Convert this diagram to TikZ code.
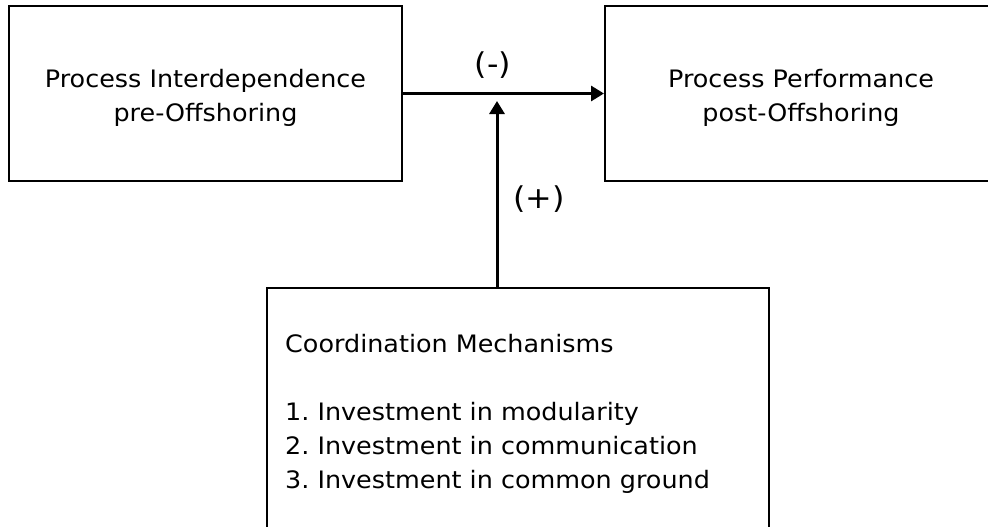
\documentclass[tikz,border=0pt]{standalone}
\usepackage{fontspec}
\setmainfont{DejaVu Sans}[FakeStretch=1.06]
\usetikzlibrary{arrows.meta}
\frenchspacing
\begin{document}
\begin{tikzpicture}[x=1pt,y=-1pt,
  box/.style={draw=black, line width=2pt, rectangle, inner sep=0pt},
  txt/.style={inner sep=0pt, font=\fontsize{24}{28}\selectfont, anchor=base},
  lbl/.style={inner sep=0pt, font=\fontsize{30}{34}\selectfont},
  arr/.style={line width=3pt, -{Triangle[length=13pt,width=15pt]}}]
\useasboundingbox (0,0) rectangle (988,527);
\fill[white] (0,0) rectangle (988,527);
% boxes
\node[box, minimum width=393pt, minimum height=175pt] (pi) at (205.5,93.5) {};
\node[box, minimum width=392pt, minimum height=175pt] (pp) at (801,93.5) {};
\node[box, minimum width=502pt, minimum height=272pt] (cm) at (518,424) {};
% texts
\node[txt] (pi1) at (205.5,88) {Process Interdependence};
\node[txt] (pi2) at (205.5,121.5) {pre-Offshoring};
\node[txt] (pp1) at (801,88) {Process Performance};
\node[txt] (pp2) at (801,121.5) {post-Offshoring};
\node[txt, anchor=base west] (cm1) at (285,352) {Coordination Mechanisms};
\node[txt, anchor=base west] (cm2) at (285,420) {1. Investment in modularity};
\node[txt, anchor=base west] (cm3) at (285,454) {2. Investment in communication};
\node[txt, anchor=base west] (cm4) at (285,488) {3. Investment in common ground};
% connectors
\coordinate (junction) at (497,101);
\draw[arr] (pi.east) -- (pp.west);
\draw[arr] (cm.north -| junction) -- (junction);
% labels
\node[lbl] (minus) at (493,65) {(-)};
\node[lbl] (plus) at (539,199) {(+)};
\end{tikzpicture}
\end{document}
